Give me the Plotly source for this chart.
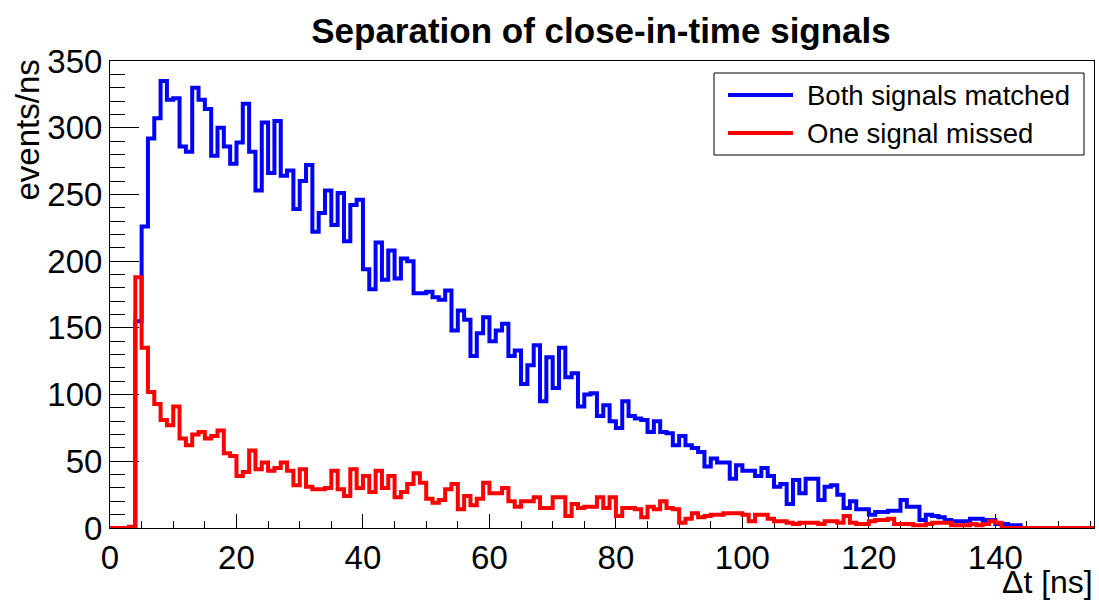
import numpy as np
import plotly.graph_objects as go

# ---------------- data (events/ns per 1 ns bin, starting at 0 ns) ----------------
bin_width = 1.0

both_matched = [
    0, 0, 0, 0, 155, 226, 292, 307, 335, 321,
    322, 286, 282, 330, 321, 314, 279, 300, 286, 273,
    289, 318, 282, 253, 304, 266, 305, 264, 268, 239,
    260, 272, 222, 236, 253, 227, 251, 215, 242, 246,
    194, 179, 214, 186, 208, 187, 202, 200, 176, 176,
    177, 173, 171, 178, 148, 163, 156, 129, 146, 158,
    140, 148, 153, 129, 133, 108, 122, 137, 95, 128,
    105, 135, 113, 116, 91, 100, 101, 84, 92, 80,
    75, 95, 84, 82, 81, 72, 80, 72, 71, 62,
    69, 62, 60, 57, 46, 52, 49, 49, 37, 47,
    43, 43, 39, 45, 39, 31, 33, 18, 36, 26,
    37, 37, 21, 31, 32, 25, 15, 20, 14, 14,
    10, 12, 12, 13, 13, 21, 16, 16, 6, 10,
    9, 8, 6, 5, 5, 5, 7, 7, 6, 6,
    3, 3, 2, 2, 0, 0, 0, 0, 0, 0,
    0, 0, 0, 0, 0, 0,
]

one_missed = [
    0, 0, 0, 1, 188, 135, 102, 93, 81, 77,
    91, 67, 62, 70, 72, 67, 69, 73, 56, 54,
    39, 42, 58, 44, 49, 43, 45, 49, 43, 32,
    44, 31, 29, 29, 30, 43, 29, 24, 44, 30,
    39, 27, 43, 30, 39, 23, 27, 33, 41, 34,
    22, 19, 21, 29, 33, 14, 24, 17, 22, 34,
    26, 26, 30, 20, 16, 20, 20, 23, 15, 15,
    23, 23, 9, 18, 15, 16, 16, 23, 15, 23,
    9, 15, 15, 14, 8, 16, 14, 20, 15, 14,
    4, 7, 11, 8, 9, 10, 10, 11, 11, 11,
    10, 5, 10, 10, 7, 5, 5, 4, 3, 4,
    4, 4, 3, 5, 5, 4, 9, 4, 3, 3,
    5, 6, 6, 7, 3, 3, 3, 2, 2, 3,
    4, 4, 4, 2, 2, 2, 3, 2, 3, 5,
    4, 0, 0, 0, 0, 0, 0, 0, 0, 0,
    0, 0, 0, 0, 0, 0,
]

series_names = ["Both signals matched", "One signal missed"]
series_colors = ["#0000ff", "#ff0000"]

x_major_ticks = [0, 20, 40, 60, 80, 100, 120, 140]
y_major_ticks = [0, 50, 100, 150, 200, 250, 300, 350]

title_text = "Separation of close-in-time signals"
x_title = "Δt [ns]"
y_title = "events/ns"

# ---------------- figure ----------------
FONT = "Liberation Sans, Arial, Helvetica, sans-serif"
W, H = 1099, 601
ML, MR, MT, MB = 110, 5, 61, 73
PW, PH = W - ML - MR, H - MT - MB


def px_to_paper_x(px):
    return (px - ML) / PW


def px_to_paper_y(py):
    return (H - MB - py) / PH


edges = np.arange(len(both_matched) + 1) * bin_width

fig = go.Figure()
for vals, name, col in zip([both_matched, one_missed], series_names, series_colors):
    fig.add_trace(go.Scatter(
        x=list(edges),
        y=list(vals) + [vals[-1]],
        mode="lines",
        line=dict(color=col, width=4, shape="hv"),
        name=name,
        showlegend=False,
        hoverinfo="skip",
    ))

axis_common = dict(
    showline=True, linecolor="black", linewidth=1, mirror=True,
    ticks="inside", tickcolor="black", tickwidth=1,
    showgrid=False, zeroline=False,
    tickfont=dict(family=FONT, size=33, color="black"),
    layer="below traces",
)

fig.update_layout(
    width=W, height=H,
    margin=dict(l=ML, r=MR, t=MT, b=MB, pad=0),
    paper_bgcolor="white", plot_bgcolor="white",
    showlegend=False,
    title=dict(
        text="<b>%s</b>" % title_text,
        font=dict(family=FONT, size=35, color="black"),
        xref="container", x=601 / W, xanchor="center",
        yref="container", y=1 - 31 / H, yanchor="middle",
    ),
    xaxis=dict(
        range=[0, 155.6],
        tickmode="array", tickvals=x_major_ticks,
        ticktext=[str(v) for v in x_major_ticks],
        ticklen=14,
        minor=dict(ticks="inside", ticklen=7, tickcolor="black", tickwidth=1,
                   tickmode="linear", tick0=0, dtick=5, showgrid=False),
        **axis_common,
    ),
    yaxis=dict(
        range=[0, 350],
        tickmode="array", tickvals=y_major_ticks,
        ticktext=[str(v) for v in y_major_ticks],
        ticklen=29,
        minor=dict(ticks="inside", ticklen=15, tickcolor="black", tickwidth=1,
                   tickmode="linear", tick0=0, dtick=10, showgrid=False),
        **axis_common,
    ),
)

# axis titles
fig.add_annotation(
    text=x_title, xref="paper", yref="paper",
    x=px_to_paper_x(1095), y=px_to_paper_y(582),
    xanchor="right", yanchor="middle", showarrow=False,
    font=dict(family=FONT, size=32, color="black"),
)
fig.add_annotation(
    text=y_title, xref="paper", yref="paper",
    x=px_to_paper_x(27), y=px_to_paper_y(58),
    xanchor="center", yanchor="top", textangle=-90, showarrow=False,
    font=dict(family=FONT, size=33, color="black"),
)

# legend (ROOT-style box)
fig.add_shape(type="rect", xref="paper", yref="paper",
              x0=px_to_paper_x(714), x1=px_to_paper_x(1084),
              y0=px_to_paper_y(155), y1=px_to_paper_y(73),
              line=dict(color="black", width=1), fillcolor="white", layer="above")
for i, (name, col) in enumerate(zip(series_names, series_colors)):
    ypx = 95 + i * 38
    fig.add_shape(type="line", xref="paper", yref="paper",
                  x0=px_to_paper_x(728), x1=px_to_paper_x(793),
                  y0=px_to_paper_y(ypx), y1=px_to_paper_y(ypx),
                  line=dict(color=col, width=4), layer="above")
    fig.add_annotation(
        text=name, xref="paper", yref="paper",
        x=px_to_paper_x(805), y=px_to_paper_y(ypx),
        xanchor="left", yanchor="middle", showarrow=False,
        font=dict(family=FONT, size=27.5, color="black"),
    )

fig.write_html("out.html")
